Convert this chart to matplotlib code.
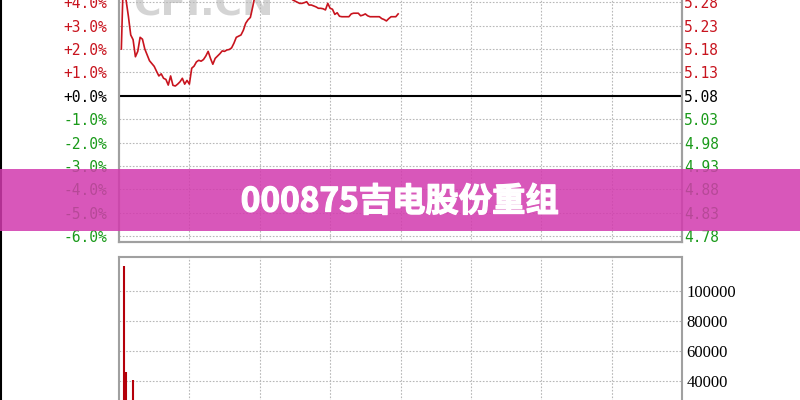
import matplotlib
matplotlib.use("Agg")
import matplotlib.pyplot as plt
import matplotlib.patheffects as pe
from matplotlib.patches import Rectangle

# ---------------- data ----------------
prev_close = 5.08
minutes = list(range(1, 120))
pct_change = [
    2.00, 5.60, 4.10, 3.40, 2.60, 2.40, 1.67, 1.90, 2.50, 2.42,
    2.00, 1.75, 1.50, 1.38, 1.26, 1.05, 0.85, 0.94, 0.75, 0.70,
    0.46, 0.85, 0.45, 0.42, 0.50, 0.60, 0.75, 0.50, 0.66, 0.50,
    1.18, 1.27, 1.45, 1.52, 1.48, 1.55, 1.70, 1.90, 1.60, 1.35,
    1.60, 1.70, 1.80, 1.92, 1.90, 1.96, 1.98, 2.05, 2.25, 2.50,
    2.55, 2.60, 2.80, 3.10, 3.25, 3.35, 3.80, 4.30, 4.60, 4.90,
    5.10, 5.30, 5.20, 5.40, 5.30, 5.10, 5.00, 4.90, 4.80, 4.60,
    4.50, 4.40, 4.30, 4.10, 4.05, 4.00, 3.95, 3.95, 3.98, 4.02,
    3.88, 3.88, 3.84, 3.80, 3.74, 3.74, 3.72, 3.67, 3.95, 3.74,
    3.70, 3.48, 3.55, 3.40, 3.38, 3.38, 3.38, 3.38, 3.50, 3.53,
    3.53, 3.53, 3.42, 3.45, 3.50, 3.42, 3.38, 3.38, 3.38, 3.38,
    3.38, 3.30, 3.26, 3.20, 3.30, 3.38, 3.38, 3.38, 3.50,
]
vol_minutes = [2, 3, 6]
volumes = [117000, 46000, 41000]

pct_ticks = [4, 3, 2, 1, 0, -1, -2, -3, -4, -5, -6]
pct_labels = ["+4.0%", "+3.0%", "+2.0%", "+1.0%", "+0.0%",
              "-1.0%", "-2.0%", "-3.0%", "-4.0%", "-5.0%", "-6.0%"]
price_labels = ["5.28", "5.23", "5.18", "5.13", "5.08",
                "5.03", "4.98", "4.93", "4.88", "4.83", "4.78"]
vol_ticks = [40000, 60000, 80000, 100000]
vol_labels = ["40000", "60000", "80000", "100000"]
time_grid = [30, 60, 90, 120, 150, 180, 210]
title_text = "000875吉电股份重组"
watermark = "CFI.CN"

# ---------------- style ----------------
RED = "#c8141e"
GREEN = "#1a9a1a"
GRID = "#b8b8b8"
SPINE = "#a0a0a0"
W, H = 800, 400

fig = plt.figure(figsize=(8, 4), dpi=100)
fig.patch.set_facecolor("white")

def color_for(v):
    return RED if v > 0 else (GREEN if v < 0 else "black")

# price panel
ax = fig.add_axes([119 / W, 1 - 241.7 / H, 563 / W, (241.7 + 50) / H])
ax.set_xlim(0, 240)
ax.set_ylim(-6.23, 6.23)
for v in pct_ticks + [5, 6]:
    if v != 0:
        ax.axhline(v, color=GRID, lw=0.8, ls=(0, (1.5, 1.5)), zorder=1)
for t in time_grid:
    ax.axvline(t, color=GRID, lw=0.8, ls=(0, (1.5, 1.5)), zorder=1)
ax.axhline(0, color="black", lw=1.5, zorder=2)
ax.plot(minutes, pct_change, color=RED, lw=1.2, zorder=3)
ax.set_xticks([])
ax.set_yticks(pct_ticks)
ax.set_yticklabels(pct_labels, fontfamily="DejaVu Sans Mono", fontsize=10.5)
for lbl, v in zip(ax.get_yticklabels(), pct_ticks):
    lbl.set_color(color_for(v))
ax.tick_params(axis="y", length=0, pad=8.5)
for s in ax.spines.values():
    s.set_color(SPINE)
    s.set_linewidth(1.5)

ax2 = ax.twinx()
ax2.set_ylim(ax.get_ylim())
ax2.set_yticks(pct_ticks)
ax2.set_yticklabels(price_labels, fontfamily="DejaVu Sans Mono", fontsize=10.5)
for lbl, v in zip(ax2.get_yticklabels(), pct_ticks):
    lbl.set_color(color_for(v))
ax2.tick_params(axis="y", length=0, pad=1.5)
for s in ax2.spines.values():
    s.set_color(SPINE)
    s.set_linewidth(1.5)

# watermark behind the line
ax.text(133 / W, 1 - 15 / H, watermark, transform=fig.transFigure,
        fontsize=27, fontweight="bold", color="#d4d4d4", ha="left",
        va="baseline", zorder=0.5, clip_on=False, fontfamily="DejaVu Sans")

# volume panel
axv = fig.add_axes([119 / W, 1 - 441 / H, 563 / W, 184 / H])
axv.set_xlim(0, 240)
axv.set_ylim(0, 122667)
for v in vol_ticks + [20000]:
    axv.axhline(v, color=GRID, lw=0.8, ls=(0, (1.5, 1.5)), zorder=1)
for t in time_grid:
    axv.axvline(t, color=GRID, lw=0.8, ls=(0, (1.5, 1.5)), zorder=1)
axv.vlines(vol_minutes, 0, volumes, color="#b4000a", lw=1.5, zorder=3)
axv.set_xticks([])
axv.yaxis.tick_right()
axv.set_yticks(vol_ticks)
axv.set_yticklabels(vol_labels, fontfamily="Liberation Serif", fontsize=12)
axv.tick_params(axis="y", length=0, pad=3)
for s in axv.spines.values():
    s.set_color(SPINE)
    s.set_linewidth(1.5)

# left edge line of the screenshot
fig.add_artist(plt.Line2D([0.8 / W, 0.8 / W], [0, 1], color="black", lw=1.5,
                          transform=fig.transFigure))

# banner
fig.add_artist(Rectangle((0, 1 - 230.5 / H), 1, 61.5 / H, transform=fig.transFigure,
                         facecolor="#d23aae", alpha=0.85, edgecolor="none", zorder=10))
fig.text(0.5, 1 - 202 / H, title_text, ha="center", va="center", color="white",
         fontsize=24, fontweight="black",
         fontfamily=["Noto Sans CJK SC", "DejaVu Sans"], zorder=11,
         path_effects=[pe.withStroke(linewidth=0.9, foreground="white")])

fig.savefig("out.png", dpi=100)
